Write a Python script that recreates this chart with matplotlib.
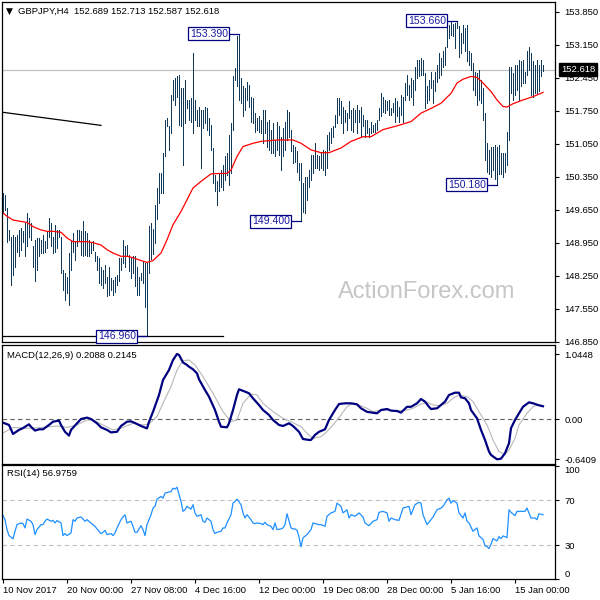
import matplotlib
matplotlib.use('Agg')
import matplotlib.pyplot as plt
import matplotlib.transforms as mtransforms

plt.rcParams['font.family'] = ['Liberation Sans', 'DejaVu Sans']

# GBPJPY H4, bar 0 = 10 Nov 2017 16:00 ... bar 270 = 16 Jan 08:00
highs = [
    150.00, 149.97, 149.68, 149.22, 149.08, 149.12, 149.08, 149.12, 149.22, 149.26,
    149.19, 149.37, 149.58, 149.47, 149.37, 148.87, 149.01, 149.05, 149.05, 149.01,
    149.12, 148.98, 149.19, 149.47, 149.37, 149.08, 149.33, 149.22, 149.22, 149.08,
    148.37, 148.30, 148.23, 148.73, 148.98, 149.15, 148.98, 149.22, 149.22, 149.19,
    149.40, 149.19, 149.15, 149.01, 148.94, 148.98, 148.76, 148.66, 148.62, 148.44,
    148.37, 148.48, 148.23, 148.44, 148.20, 148.16, 148.23, 148.27, 148.62, 148.62,
    149.00, 148.87, 148.90, 148.69, 148.62, 148.66, 148.66, 148.44, 148.23, 148.30,
    148.55, 148.52, 148.52, 149.30, 149.36, 149.25, 149.75, 150.10, 150.42, 150.42,
    150.85, 151.56, 151.59, 151.42, 152.09, 152.41, 152.44, 152.48, 152.51, 152.23,
    152.23, 152.41, 151.98, 151.98, 152.02, 152.97, 151.98, 151.77, 151.84, 151.77,
    151.77, 151.84, 151.80, 151.59, 151.45, 150.95, 150.39, 150.25, 150.42, 150.50,
    150.60, 150.78, 150.85, 151.24, 151.49, 152.48, 152.65, 153.33, 153.39, 152.44,
    152.27, 152.23, 152.37, 152.30, 152.05, 152.02, 151.70, 151.59, 151.63, 151.56,
    151.77, 151.77, 151.52, 151.56, 151.35, 151.49, 151.13, 151.52, 151.42, 151.20,
    151.38, 151.52, 151.77, 151.73, 151.35, 151.03, 150.99, 150.89, 150.64, 150.64,
    150.21, 150.35, 150.35, 150.50, 150.81, 150.81, 151.06, 150.81, 150.78, 150.85,
    150.92, 150.89, 151.24, 151.31, 151.38, 151.42, 151.66, 152.02, 152.02, 151.95,
    151.84, 151.77, 151.70, 151.95, 151.77, 151.81, 151.77, 151.88, 151.77, 151.84,
    151.66, 151.56, 151.56, 151.38, 151.52, 151.45, 151.49, 151.56, 151.81, 152.12,
    152.05, 151.98, 151.95, 151.98, 151.81, 151.91, 152.02, 151.95, 151.84, 152.09,
    152.05, 152.34, 152.51, 152.30, 152.44, 152.41, 152.69, 152.83, 152.83, 152.87,
    152.83, 152.55, 152.27, 152.41, 152.58, 152.41, 152.58, 152.72, 152.97, 152.87,
    153.01, 153.11, 153.62, 153.57, 153.64, 153.60, 153.62, 153.66, 153.55, 153.40,
    153.57, 153.50, 153.57, 153.01, 152.97, 152.76, 152.58, 152.55, 152.62, 152.41,
    152.23, 151.70, 151.06, 150.92, 150.99, 150.99, 151.03, 150.99, 151.03, 150.85,
    150.85, 150.85, 151.31, 152.69, 152.69, 152.55, 152.72, 152.72, 152.83, 152.80,
    152.83, 152.58, 153.01, 153.11, 152.97, 152.80, 152.72, 152.83, 152.72, 152.83,
    152.713,
]
lows = [
    149.58, 149.65, 148.97, 149.01, 148.06, 148.27, 148.44, 148.76, 148.66, 148.80,
    148.97, 148.66, 148.87, 149.08, 149.01, 148.44, 148.13, 148.37, 148.66, 148.73,
    148.73, 148.76, 148.83, 149.08, 148.87, 148.73, 148.76, 148.83, 149.08, 148.30,
    147.95, 147.74, 147.88, 147.63, 148.37, 148.76, 148.59, 148.87, 149.01, 148.69,
    148.66, 148.69, 148.66, 148.66, 148.73, 148.80, 148.55, 148.37, 148.09, 148.06,
    147.98, 148.09, 147.81, 147.84, 147.95, 147.84, 147.91, 148.06, 148.13, 148.37,
    148.51, 148.44, 148.66, 148.34, 148.20, 148.30, 148.02, 147.84, 147.84, 148.16,
    148.09, 147.59, 146.96, 148.30, 148.60, 148.70, 148.95, 149.45, 149.79, 150.00,
    150.00, 150.80, 151.42, 150.92, 151.27, 151.98, 151.88, 152.05, 151.45, 151.42,
    150.60, 151.49, 151.80, 151.56, 151.52, 151.27, 151.56, 151.42, 151.42, 150.53,
    151.38, 151.49, 151.35, 151.24, 150.92, 150.21, 150.04, 149.75, 150.04, 150.14,
    150.07, 150.28, 150.39, 150.18, 150.42, 151.35, 152.41, 152.27, 151.98, 151.91,
    151.63, 151.77, 151.98, 151.84, 151.52, 151.49, 151.31, 151.35, 151.31, 151.27,
    151.06, 151.27, 150.99, 150.92, 150.85, 150.85, 150.78, 150.92, 150.81, 150.50,
    150.78, 150.92, 151.13, 151.20, 150.89, 150.64, 150.67, 150.46, 150.28, 149.40,
    149.61, 149.58, 149.86, 150.14, 150.28, 150.43, 150.53, 150.53, 150.50, 150.53,
    150.50, 150.39, 150.53, 150.92, 151.06, 151.20, 151.40, 151.49, 151.66, 151.49,
    151.27, 151.52, 151.35, 151.59, 151.35, 151.31, 151.52, 151.27, 151.52, 151.20,
    151.42, 151.20, 151.27, 151.20, 151.27, 151.31, 151.31, 151.35, 151.56, 151.63,
    151.73, 151.70, 151.77, 151.66, 151.66, 151.73, 151.52, 151.63, 151.52, 151.66,
    151.52, 151.98, 152.09, 151.98, 152.05, 151.88, 152.20, 152.44, 152.48, 152.51,
    152.51, 151.80, 151.91, 151.98, 152.23, 151.91, 152.16, 152.37, 152.44, 152.51,
    152.69, 152.72, 153.11, 153.29, 153.36, 153.33, 153.08, 153.50, 152.90, 152.97,
    153.18, 153.01, 152.80, 152.72, 152.62, 152.19, 152.09, 151.88, 151.98, 151.91,
    151.55, 150.70, 150.45, 150.40, 150.35, 150.50, 150.30, 150.18, 150.40, 150.40,
    150.35, 150.45, 150.60, 151.13, 152.12, 151.98, 152.09, 152.20, 151.98, 152.27,
    152.34, 152.34, 152.51, 152.62, 152.09, 152.05, 152.12, 152.12, 152.16, 152.48,
    152.587,
]

# 55 EMA (red), sampled along the line
ma_idx = [0, 2, 5, 9, 12, 15, 19, 22, 25, 29, 32, 35, 39, 42, 45, 49, 52, 55, 59, 62,
          65, 69, 72, 75, 79, 82, 85, 89, 92, 95, 99, 104, 109, 112, 114, 117, 120, 125, 129, 137,
          145, 149, 154, 159, 163, 169, 174, 180, 184, 190, 197, 204, 209, 214, 219, 224, 227, 230, 234, 237,
          240, 244, 247, 250, 252, 255, 260, 265, 270]
ma_val = [149.58, 149.51, 149.43, 149.40, 149.38, 149.29, 149.22, 149.19, 149.19, 149.17,
          149.05, 148.97, 148.97, 148.97, 148.95, 148.90, 148.80, 148.73, 148.66, 148.66,
          148.63, 148.57, 148.53, 148.57, 148.73, 149.01, 149.33, 149.61, 149.86, 150.11,
          150.25, 150.41, 150.42, 150.42, 150.49, 150.78, 150.99, 151.06, 151.10, 151.13,
          151.13, 151.06, 150.92, 150.86, 150.86, 150.96, 151.10, 151.20, 151.20, 151.35,
          151.43, 151.52, 151.70, 151.80, 151.91, 152.12, 152.34, 152.42, 152.48, 152.46,
          152.34, 152.16, 151.98, 151.84, 151.83, 151.90, 151.98, 152.05, 152.14]

# MACD(12,26,9) main line
macd_idx = [0, 3, 5, 8, 10, 13, 14, 16, 18, 20, 23, 25, 28, 29, 31, 33, 34, 37, 39, 42,
            44, 47, 49, 52, 54, 57, 59, 62, 64, 67, 69, 72, 73, 75, 78, 80, 83, 85, 87, 88,
            90, 92, 93, 95, 97, 98, 101, 103, 106, 108, 109, 112, 113, 115, 117, 118, 121, 123, 125, 128,
            130, 133, 135, 138, 140, 143, 145, 148, 150, 153, 154, 156, 158, 161, 163, 166, 168, 171, 174, 177,
            179, 182, 184, 187, 189, 192, 194, 197, 199, 202, 204, 207, 209, 211, 213, 214, 217, 219, 221, 223,
            226, 228, 229, 231, 233, 234, 237, 239, 241, 243, 244, 247, 249, 251, 253, 254, 256, 258, 260, 263,
            265, 268, 270]
macd_val = [-0.054, -0.09, -0.234, -0.17, -0.14, -0.08, -0.12, -0.18, -0.16, -0.16,
            -0.09, -0.038, -0.02, -0.09, -0.20, -0.26, -0.17, -0.064, 0.005, 0.027,
            0.005, -0.064, -0.128, -0.17, -0.209, -0.20, -0.107, -0.038, -0.032, -0.075,
            -0.107, -0.145, -0.04, 0.12, 0.389, 0.629, 0.789, 0.949, 1.045, 1.03,
            0.91, 0.869, 0.842, 0.80, 0.736, 0.64, 0.469, 0.362, 0.149, -0.038,
            -0.118, -0.128, -0.064, 0.149, 0.389, 0.48, 0.443, 0.416, 0.336, 0.229,
            0.149, 0.069, -0.011, -0.09, -0.107, -0.064, -0.107, -0.20, -0.315, -0.33,
            -0.33, -0.25, -0.20, -0.16, -0.011, 0.149, 0.245, 0.256, 0.256, 0.24,
            0.176, 0.12, 0.11, 0.096, 0.149, 0.165, 0.139, 0.133, 0.107, 0.20,
            0.20, 0.256, 0.325, 0.283, 0.20, 0.165, 0.176, 0.229, 0.283, 0.389,
            0.426, 0.426, 0.352, 0.336, 0.256, 0.149, 0.016, -0.17, -0.33, -0.516,
            -0.57, -0.64, -0.63, -0.543, -0.383, -0.142, -0.011, 0.096, 0.20, 0.272,
            0.256, 0.224, 0.2088]

# MACD signal line
sig_idx = [0, 5, 12, 20, 27, 32, 37, 42, 45, 50, 55, 60, 65, 70, 73, 77, 80, 84, 87, 90,
           93, 96, 100, 105, 110, 114, 117, 120, 124, 127, 130, 135, 140, 145, 149, 152, 155, 159, 162, 165,
           169, 172, 175, 178, 182, 185, 188, 192, 195, 198, 202, 205, 208, 212, 215, 218, 222, 225, 228, 232,
           235, 238, 242, 245, 248, 251, 253, 256, 258, 262, 265, 268, 270]
sig_val = [-0.22, -0.13, -0.145, -0.13, -0.107, -0.13, -0.09, -0.011, -0.011, -0.09,
           -0.17, -0.13, -0.064, -0.09, -0.075, 0.043, 0.256, 0.523, 0.789, 0.939,
           0.949, 0.869, 0.683, 0.416, 0.123, -0.038, -0.011, 0.256, 0.405, 0.389,
           0.256, 0.123, 0.016, -0.054, -0.118, -0.225, -0.305, -0.278, -0.198, -0.09,
           0.069, 0.203, 0.256, 0.229, 0.176, 0.123, 0.139, 0.149, 0.139, 0.133,
           0.149, 0.176, 0.229, 0.272, 0.229, 0.219, 0.256, 0.336, 0.389, 0.363,
           0.283, 0.123, -0.09, -0.33, -0.517, -0.56, -0.49, -0.305, -0.09, 0.096,
           0.203, 0.229, 0.2145]

# RSI(14)
rsi_idx = [0, 1, 2, 3, 5, 6, 7, 9, 10, 11, 12, 14, 15, 16, 17, 19, 20, 21, 22, 24,
           25, 26, 27, 29, 30, 31, 32, 34, 35, 36, 37, 39, 40, 41, 42, 44, 45, 46, 47, 49,
           50, 51, 52, 54, 55, 56, 57, 59, 60, 61, 62, 64, 65, 66, 67, 69, 70, 71, 72, 74,
           75, 76, 77, 79, 80, 81, 82, 84, 85, 86, 87, 89, 90, 91, 92, 94, 95, 96, 97, 99,
           100, 101, 102, 104, 105, 106, 107, 109, 110, 111, 112, 114, 115, 116, 117, 119, 120, 121, 122, 124,
           125, 126, 127, 129, 130, 131, 132, 134, 135, 136, 137, 139, 140, 141, 142, 144, 145, 146, 147, 148,
           149, 150, 152, 154, 155, 158, 159, 161, 162, 164, 166, 167, 169, 170, 172, 173, 174, 176, 178, 180,
           181, 183, 185, 187, 188, 190, 192, 193, 194, 196, 198, 200, 203, 204, 206, 208, 209, 210, 212, 214,
           215, 217, 219, 220, 222, 223, 224, 225, 227, 228, 230, 231, 232, 233, 235, 236, 237, 238, 240, 241,
           242, 243, 244, 245, 247, 248, 249, 250, 252, 253, 254, 256, 257, 259, 261, 262, 264, 266, 267, 268,
           270]
rsi_val = [56.2, 52.6, 43.8, 38.5, 35.6, 42.3, 48.2, 49.7, 49.1, 45.3,
           53.2, 51.2, 48.2, 39.4, 43.8, 48.2, 48.2, 51.2, 53.2, 51.2,
           52.0, 49.7, 51.8, 49.7, 38.5, 40.3, 38.5, 40.9, 52.6, 51.2,
           54.1, 55.0, 53.2, 51.2, 52.6, 49.7, 48.2, 46.7, 44.4, 40.3,
           41.4, 43.2, 39.4, 40.3, 38.5, 40.9, 45.3, 52.6, 55.0, 57.0,
           49.7, 51.2, 46.7, 41.4, 41.4, 47.3, 43.8, 38.5, 48.2, 57.0,
           62.9, 64.4, 70.8, 73.2, 71.7, 76.1, 76.7, 77.6, 80.5, 79.7,
           81.4, 68.8, 60.0, 61.4, 64.4, 62.0, 65.9, 58.6, 55.6, 57.0,
           51.2, 50.3, 54.1, 51.2, 43.8, 40.3, 41.4, 42.3, 45.3, 45.3,
           49.7, 57.0, 67.3, 68.8, 70.8, 65.9, 58.6, 54.1, 57.0, 52.6,
           49.7, 49.1, 49.7, 49.1, 48.2, 50.3, 48.2, 46.7, 43.8, 49.7,
           43.8, 44.4, 45.3, 48.2, 57.9, 45.3, 44.4, 44.4, 43.2, 37.3,
           28.6, 36.5, 39.4, 43.8, 49.7, 48.2, 48.2, 46.7, 55.6, 58.6,
           60.0, 67.3, 64.4, 58.6, 61.4, 54.1, 57.0, 55.6, 58.6, 55.0,
           49.7, 47.3, 51.2, 52.6, 59.1, 60.0, 58.6, 51.2, 54.1, 52.6,
           52.0, 62.9, 64.4, 57.0, 65.9, 68.0, 67.3, 57.0, 48.2, 52.6,
           55.0, 61.4, 62.9, 64.4, 70.2, 71.7, 67.3, 69.6, 67.3, 58.6,
           54.1, 58.6, 51.2, 49.7, 42.3, 43.8, 45.3, 38.2, 35.2, 29.4,
           28.8, 27.0, 30.8, 35.8, 33.8, 37.6, 35.8, 38.2, 36.7, 61.4,
           59.1, 56.2, 60.0, 60.0, 60.0, 62.9, 54.1, 54.1, 52.6, 57.9,
           56.98]

price_ticks = [146.850, 147.550, 148.250, 148.950, 149.650, 150.350,
               151.050, 151.750, 152.450, 153.150, 153.850]
date_pos = [0, 32, 64, 96, 128, 160, 192, 224, 256]
date_labels = ['10 Nov 2017', '20 Nov 00:00', '27 Nov 08:00', '4 Dec 16:00',
               '12 Dec 00:00', '19 Dec 08:00', '28 Dec 00:00', '5 Jan 16:00', '15 Jan 00:00']
ext_idx = [72, 118, 149, 227, 247]          # marked highs / lows
ext_price = [146.960, 153.390, 149.400, 153.660, 150.180]
last_ohlc = [152.689, 152.713, 152.587, 152.618]
trend_idx = [-0.5, 49]
trend_price = [151.72, 151.44]
support_idx = [-0.5, 110]

BAR = '#123a58'
NAVY = '#000080'
W = 600.0

fig = plt.figure(figsize=(6, 6), dpi=100, facecolor='white')


def panel(top, bottom):
    return fig.add_axes([2 / W, 1 - bottom / W, 553 / W, (bottom - top) / W])


ax1 = panel(2, 342)
ax2 = panel(345, 463.5)
ax3 = panel(465, 579)
for ax in (ax1, ax2, ax3):
    ax.set_xlim(-0.5, 276)
    ax.yaxis.tick_right()
    ax.tick_params(axis='y', direction='out', length=3, width=0.8, pad=4,
                   labelsize=6.8, colors='black')
    ax.tick_params(axis='x', bottom=False, labelbottom=False)
    for s in ax.spines.values():
        s.set_linewidth(0.9)
        s.set_color('black')

# ---- price panel ----
ax1.set_ylim(146.84, 154.06)
ax1.set_yticks(price_ticks)
ax1.set_yticklabels(['%.3f' % v for v in price_ticks])
ax1.axhline(last_ohlc[3], color='#c0c0c0', lw=0.9, zorder=0)
ax1.text(338 / W, 1 - 292 / W, 'ActionForex.com', transform=fig.transFigure,
         fontsize=17, color='#c6c6c6', va='center', ha='left', zorder=0)
ax1.vlines(range(len(highs)), lows, highs, colors=BAR, lw=0.55, antialiased=False)
ax1.plot(ma_idx, ma_val, color='#ff0000', lw=0.9)
ax1.plot(trend_idx, trend_price, color='black', lw=0.9)
ax1.plot(support_idx, [ext_price[0], ext_price[0]], color='black', lw=0.9)
for i, p in zip(ext_idx, ext_price):
    ax1.plot([i - 5, i], [p, p], color=NAVY, lw=0.9)
    ax1.text(i - 5.6, p, '%.3f' % p, ha='right', va='center', fontsize=7.6,
             color='#1a1aa0', zorder=5,
             bbox=dict(boxstyle='square,pad=0.15', fc='white', ec=NAVY, lw=0.9))
blend = mtransforms.blended_transform_factory(ax1.transAxes, ax1.transData)
ax1.text(1.011, last_ohlc[3], '%.3f' % last_ohlc[3], transform=blend, ha='left',
         va='center', fontsize=6.8, color='white', clip_on=False, zorder=10,
         bbox=dict(boxstyle='square,pad=0.22', fc='black', ec='black'))

# ---- MACD panel ----
ax2.set_ylim(-0.707, 1.189)
ax2.axhline(0, color='#606060', lw=0.8, ls=(0, (4, 3)))
ax2.plot(sig_idx, sig_val, color='#b8b8b8', lw=0.8)
ax2.plot(macd_idx, macd_val, color=NAVY, lw=1.6)
ax2.set_yticks([-0.6409, 0, 1.0448])
ax2.set_yticklabels(['-0.6409', '0.00', '1.0448'])

# ---- RSI panel ----
ax3.set_ylim(0.66, 101.1)
for lvl in (30, 70):
    ax3.axhline(lvl, color='#c0c0c0', lw=0.8, ls=(0, (4, 3)))
ax3.plot(rsi_idx, rsi_val, color='#1e90ff', lw=0.9)
ax3.set_yticks([0, 30, 70, 100])
ax3.set_yticklabels(['0', '30', '70', '100'])
rl = ax3.get_yticklabels()
rl[0].set_verticalalignment('bottom')
rl[3].set_verticalalignment('top')
ax3.set_xticks(date_pos)
ax3.set_xticklabels(date_labels, ha='left')
ax3.tick_params(axis='x', bottom=True, labelbottom=True, direction='out',
                length=3, width=0.8, pad=2, labelsize=6.8)

# ---- header texts ----
fig.text(9.5 / W, 1 - 11 / W, '\u25bc', fontsize=6.5, ha='center', va='center',
         family='DejaVu Sans')
fig.text(18 / W, 1 - 11 / W, 'GBPJPY,H4  %.3f %.3f %.3f %.3f' % tuple(last_ohlc),
         fontsize=6.8, va='center')
fig.text(7 / W, 1 - 355 / W, 'MACD(12,26,9) 0.2088 0.2145', fontsize=6.8, va='center')
fig.text(7 / W, 1 - 474 / W, 'RSI(14) 56.9759', fontsize=6.8, va='center')

fig.savefig('out.png', dpi=100)
